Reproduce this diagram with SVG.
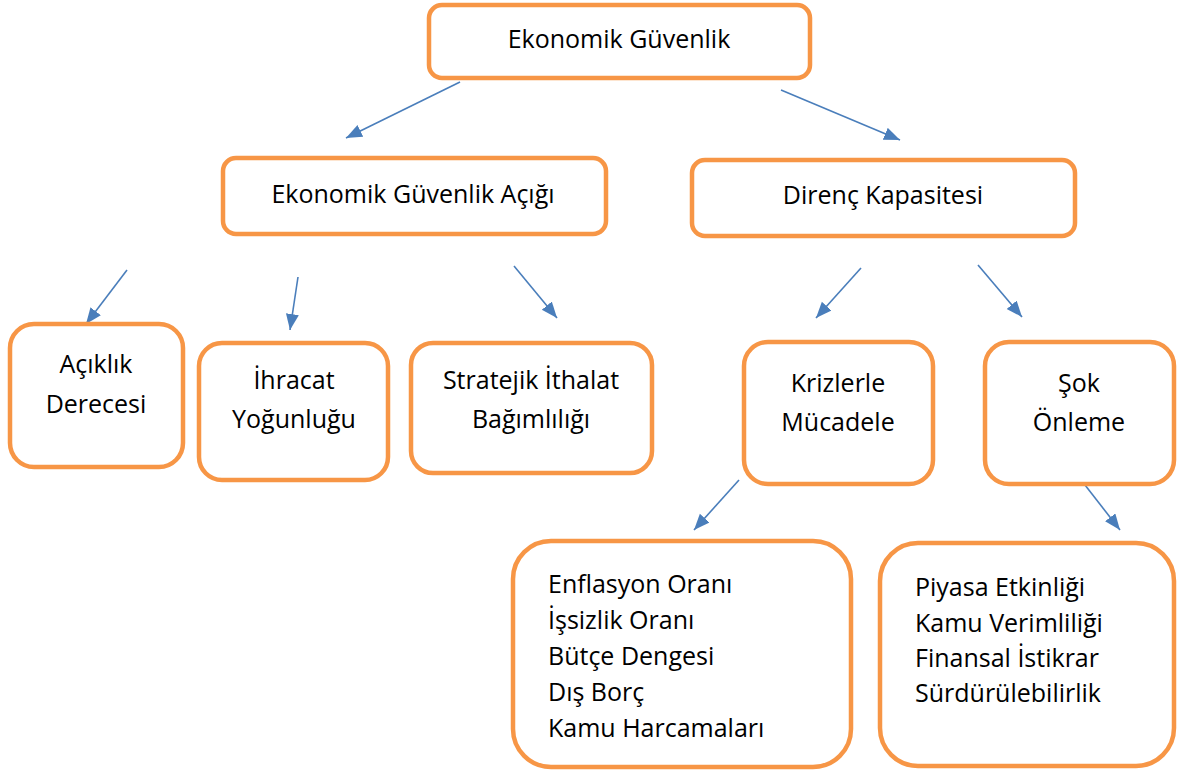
<svg xmlns="http://www.w3.org/2000/svg" width="1178" height="772" viewBox="0 0 1178 772">
<style>
.box{fill:#fff;stroke:#F79646;stroke-width:4.5}
.t{font-family:"Open Sans","Liberation Sans",sans-serif;font-size:25px;fill:#000}
.c{text-anchor:middle}
.arr{stroke:#4A7EBB;stroke-width:1.6;fill:none;marker-end:url(#ah)}
</style>
<defs>
<marker id="ah" markerUnits="userSpaceOnUse" markerWidth="18" markerHeight="14" refX="16" refY="6.5" orient="auto">
<path d="M0,0 L16,6.5 L0,13 Z" fill="#4A7EBB"/>
</marker>
</defs>
<rect width="1178" height="772" fill="#fff"/>
<g id="connectors">
<line class="arr" x1="460" y1="82" x2="346" y2="138"/>
<line class="arr" x1="781" y1="90" x2="900" y2="140"/>
<line class="arr" x1="127" y1="270" x2="86" y2="324"/>
<line class="arr" x1="298" y1="277" x2="290" y2="330"/>
<line class="arr" x1="514" y1="266" x2="557" y2="318"/>
<line class="arr" x1="861" y1="268" x2="816" y2="318"/>
<line class="arr" x1="978" y1="265" x2="1022" y2="317"/>
<line class="arr" x1="739" y1="480" x2="694" y2="530"/>
<line class="arr" x1="1085" y1="485" x2="1120" y2="530"/>
</g>
<g id="ekonomik-guvenlik">
<rect class="box" x="429" y="5" width="381" height="73" rx="13"/>
<text class="t c" x="619" y="48">Ekonomik Güvenlik</text>
</g>
<g id="guvenlik-acigi">
<rect class="box" x="223" y="158" width="383" height="76" rx="13"/>
<text class="t c" x="413" y="203">Ekonomik Güvenlik Açığı</text>
</g>
<g id="direnc-kapasitesi">
<rect class="box" x="692" y="160" width="383" height="76" rx="13"/>
<text class="t c" x="883" y="204">Direnç Kapasitesi</text>
</g>
<g id="aciklik">
<rect class="box" x="10" y="324" width="173" height="143" rx="24"/>
<text class="t c" x="96" y="373">Açıklık</text>
<text class="t c" x="96" y="413">Derecesi</text>
</g>
<g id="ihracat">
<rect class="box" x="199" y="343" width="189" height="137" rx="23"/>
<text class="t c" x="294" y="389">İhracat</text>
<text class="t c" x="294" y="428">Yoğunluğu</text>
</g>
<g id="ithalat">
<rect class="box" x="411" y="343" width="241" height="130" rx="22"/>
<text class="t c" x="531" y="389">Stratejik İthalat</text>
<text class="t c" x="531" y="428">Bağımlılığı</text>
</g>
<g id="krizler">
<rect class="box" x="744" y="342" width="189" height="142" rx="24"/>
<text class="t c" x="838" y="392">Krizlerle</text>
<text class="t c" x="838" y="431">Mücadele</text>
</g>
<g id="sok">
<rect class="box" x="985" y="342" width="189" height="142" rx="24"/>
<text class="t c" x="1079" y="392">Şok</text>
<text class="t c" x="1079" y="431">Önleme</text>
</g>
<g id="kriz-gostergeleri">
<rect class="box" x="513" y="541" width="338" height="226" rx="38"/>
<text class="t" x="548" y="593">Enflasyon Oranı</text>
<text class="t" x="548" y="629">İşsizlik Oranı</text>
<text class="t" x="548" y="665">Bütçe Dengesi</text>
<text class="t" x="548" y="701">Dış Borç</text>
<text class="t" x="548" y="737">Kamu Harcamaları</text>
</g>
<g id="sok-gostergeleri">
<rect class="box" x="880" y="543" width="294" height="223" rx="38"/>
<text class="t" x="915" y="596">Piyasa Etkinliği</text>
<text class="t" x="915" y="632">Kamu Verimliliği</text>
<text class="t" x="915" y="667">Finansal İstikrar</text>
<text class="t" x="915" y="702">Sürdürülebilirlik</text>
</g>
</svg>
